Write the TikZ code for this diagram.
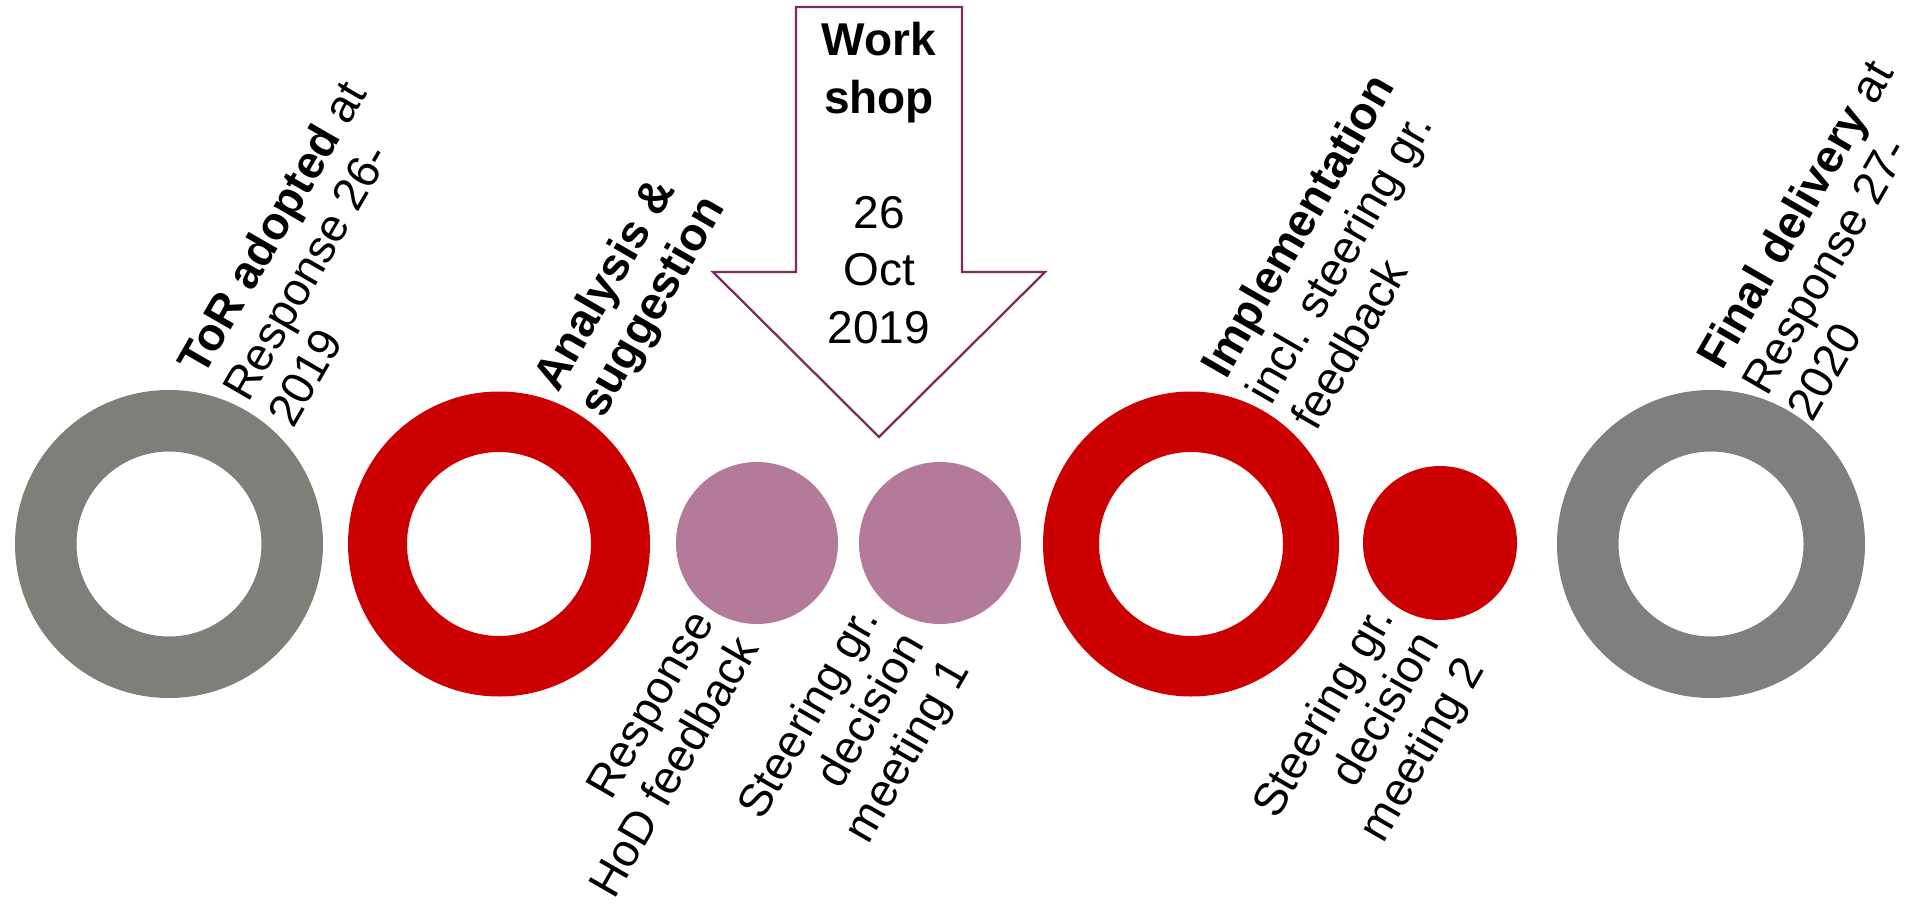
\documentclass[tikz,border=0pt]{standalone}
\usepackage{fontspec}
\setmainfont{Liberation Sans}
\definecolor{ringgrayA}{HTML}{7F7E79}
\definecolor{ringgrayB}{HTML}{7F7F7F}
\definecolor{ringred}{HTML}{CC0000}
\definecolor{dotpink}{HTML}{B37B99}
\definecolor{arrowline}{HTML}{7F2B5F}
\tikzset{
  % multi-line nodes sit on the baseline of their last line
  toplabel/.style={rotate=60, anchor=base west, align=left, inner sep=0pt,
    font=\fontsize{46}{52}\selectfont},
  botlabel/.style={rotate=60, anchor=base east, align=right, inner sep=0pt,
    font=\fontsize{46}{52}\selectfont},
  dot/.style={circle, inner sep=0pt, minimum size=162pt, fill=#1},
}
\begin{document}
\begin{tikzpicture}[x=1pt, y=-1pt]
\useasboundingbox (0,0) rectangle (1914,917);

% milestone centres
\coordinate (tor) at (169,544);
\coordinate (ana) at (499,544);
\coordinate (imp) at (1191,544);
\coordinate (fin) at (1711,544);

% rings
\fill[ringgrayA, even odd rule] (tor) circle (154) (tor) circle (92.5);
\fill[ringred, even odd rule] (ana) ellipse (151 and 152.5) (ana) circle (92);
\fill[ringred, even odd rule] (imp) ellipse (148 and 152.5) (imp) circle (92);
\fill[ringgrayB, even odd rule] (fin) circle (154) (fin) circle (92.5);

% solid dots
\node[dot=dotpink] (hod) at (757,543) {};
\node[dot=dotpink] (sg1) at (940,543) {};
\node[dot=ringred, minimum size=154pt] (sg2) at (1440,543) {};

% workshop arrow
\draw[arrowline, line width=2.3pt, line join=miter, fill=white]
  (796,7) -- (962,7) -- (962,272) -- (1045,272) -- (879,437)
  -- (713,272) -- (796,272) -- cycle;
\node[anchor=base, align=center, inner sep=0pt,
      font=\fontsize{46}{57.5}\selectfont] (ws) at (879,343)
  {\textbf{Work}\\\textbf{shop}\\\mbox{}\\26\\Oct\\2019};

% labels above the rings
\node[toplabel] (torl) at (293,430) {\textbf{ToR adopted} at\\Response 26-\\2019};
\node[toplabel] (anal) at (603,420) {\textbf{Analysis \&}\\\textbf{suggestion}};
\node[toplabel] (impl) at (1316,433) {\textbf{Implementation}\\incl. steering gr.\\feedback};
\node[toplabel] (finl) at (1812,424) {\textbf{Final delivery} at\\Response 27-\\2020};

% labels below the dots
\node[botlabel] (hodl) at (760,648) {Response\\HoD feedback};
\node[botlabel] (sg1l) at (970,670) {Steering gr.\\decision\\meeting 1};
\node[botlabel] (sg2l) at (1485,669) {Steering gr.\\decision\\meeting 2};
\end{tikzpicture}
\end{document}
